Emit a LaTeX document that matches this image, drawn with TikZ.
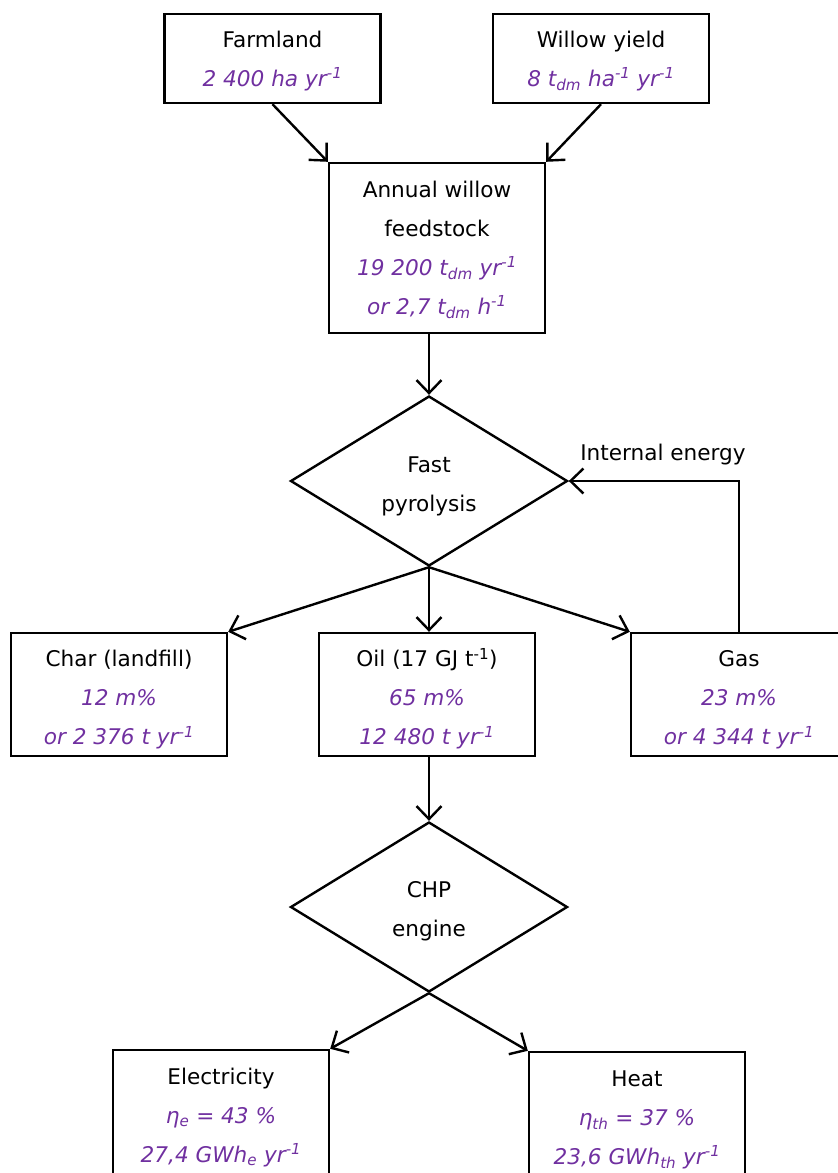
\documentclass[tikz,border=0pt]{standalone}
\usepackage{fontspec}
\setmainfont{DejaVu Sans}
\usetikzlibrary{shapes.geometric,arrows.meta}
\definecolor{valcol}{HTML}{7030A0}
\newcommand{\valtxt}[1]{{\color{valcol}\itshape #1}}
\newcommand{\sps}[1]{\textsuperscript{#1}}
\newcommand{\sbs}[1]{\textsubscript{#1}}
\newcommand{\ts}[1]{\rule{0pt}{#1pt}}
\begin{document}
\begin{tikzpicture}[x=1pt,y=-1pt,
  every node/.style={font=\fontsize{21.6}{39}\selectfont, align=center, inner sep=0pt},
  box/.style={draw, line width=2.4pt, minimum width=216pt},
  dia/.style={draw, diamond, line width=2.4pt, minimum width=277pt, minimum height=170pt},
  arr/.style={line width=2.4pt, -{Straight Barb[length=13pt,width=25pt]}}
]
\useasboundingbox (0,0) rectangle (838,1173);

\node[box, minimum height=89pt] (farm) at (272.5,58.5)
  {\ts{21}Farmland\\ \valtxt{2 400 ha yr\sps{-1}}};
\node[box, minimum height=89pt] (willow) at (601,58.5)
  {\ts{21}Willow yield\\ \valtxt{8 t\sbs{dm} ha\sps{-1} yr\sps{-1}}};
\node[box, minimum height=170pt] (annual) at (437,248)
  {\ts{20}Annual willow\\ feedstock\\ \valtxt{19 200 t\sbs{dm} yr\sps{-1}}\\ \valtxt{or 2,7 t\sbs{dm} h\sps{-1}}};

\node[dia] (pyro) at (429,481) {\ts{26}Fast\\ pyrolysis};
\node (ielabel) at (663,455) {Internal energy};

\node[box, minimum height=123pt] (char) at (119,694.5)
  {\ts{27}Char (landfill)\\ \valtxt{12 m\%}\\ \valtxt{or 2 376 t yr\sps{-1}}};
\node[box, minimum height=123pt] (oil) at (427,694.5)
  {\ts{27}Oil (17 GJ t\sps{-1})\\ \valtxt{65 m\%}\\ \valtxt{12 480 t yr\sps{-1}}};
\node[box, minimum height=123pt] (gas) at (739,694.5)
  {\ts{27}Gas\\ \valtxt{23 m\%}\\ \valtxt{or 4 344 t yr\sps{-1}}};

\node[dia] (chp) at (429,907) {\ts{24}CHP\\ engine};

\node[box, minimum height=129pt] (elec) at (221,1114.5)
  {\ts{22}Electricity\\ \valtxt{η\sbs{e} = 43 \%}\\ \valtxt{27,4 GWh\sbs{e} yr\sps{-1}}};
\node[box, minimum height=129pt] (heat) at (637,1116.5)
  {\ts{22}Heat\\ \valtxt{η\sbs{th} = 37 \%}\\ \valtxt{23,6 GWh\sbs{th} yr\sps{-1}}};

\draw[arr] (farm.south) -- (annual.north west);
\draw[arr] (willow.south) -- (annual.north east);
\draw[arr] (annual.south -| pyro.north) -- (pyro.north);
\draw[arr] (pyro.south) -- (char.north east);
\draw[arr] (pyro.south) -- (pyro.south |- oil.north);
\draw[arr] (pyro.south) -- (gas.north west);
\draw[arr] (gas.north) |- (pyro.east);
\draw[arr] (oil.south -| chp.north) -- (chp.north);
\draw[arr] (chp.south) -- (elec.north east);
\draw[arr] (chp.south) -- (heat.north west);
\end{tikzpicture}
\end{document}
